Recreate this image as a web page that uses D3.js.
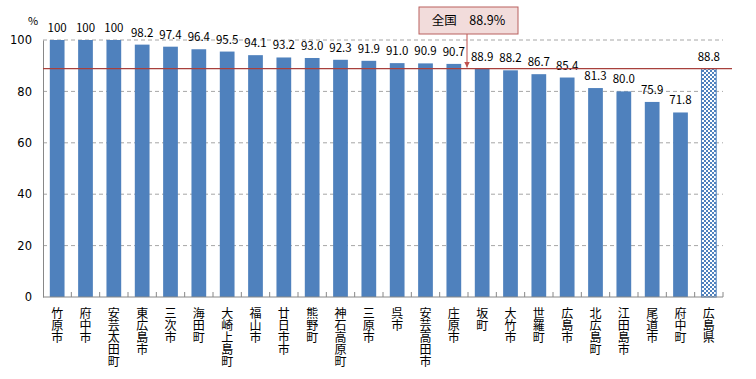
<!DOCTYPE html>
<html>
<head>
<meta charset="utf-8">
<script src="https://cdn.jsdelivr.net/npm/d3@7"></script>
<style>
  body { margin: 0; background: #fff; }
  text { font-family: "Noto Sans CJK JP", "DejaVu Sans", sans-serif; }
  text.cat { writing-mode: vertical-rl; text-orientation: upright; }
</style>
</head>
<body>
<script>
'use strict';

const categories = ['竹原市', '府中市', '安芸太田町', '東広島市', '三次市', '海田町', '大崎上島町', '福山市',
  '廿日市市', '熊野町', '神石高原町', '三原市', '呉市', '安芸高田市', '庄原市', '坂町', '大竹市', '世羅町',
  '広島市', '北広島町', '江田島市', '尾道市', '府中町', '広島県'];
const values = [100, 100, 100, 98.2, 97.4, 96.4, 95.5, 94.1, 93.2, 93.0, 92.3, 91.9, 91.0, 90.9, 90.7,
  88.9, 88.2, 86.7, 85.4, 81.3, 80.0, 75.9, 71.8, 88.8];
const yTicks = [0, 20, 40, 60, 80, 100];
const nationalValue = 88.9;
const nationalLabel = '全国　88.9%';

const width = 756, height = 379;
const margin = { left: 43, right: 33, top: 40, bottom: 82 };

const svg = d3.select('body').append('svg')
  .attr('width', width)
  .attr('height', height);

const x = d3.scaleBand()
  .domain(categories)
  .range([margin.left, width - margin.right])
  .paddingInner(0.48)
  .paddingOuter(0.24);

const y = d3.scaleLinear()
  .domain([0, 100])
  .range([height - margin.bottom, margin.top]);

// checkered pattern for prefecture bar
const defs = svg.append('defs');
const pat = defs.append('pattern')
  .attr('id', 'checker')
  .attr('width', 4).attr('height', 4)
  .attr('patternUnits', 'userSpaceOnUse');
pat.append('rect').attr('width', 4).attr('height', 4).attr('fill', '#fff');
pat.append('rect').attr('width', 2).attr('height', 2).attr('fill', '#4f81bd');
pat.append('rect').attr('x', 2).attr('y', 2).attr('width', 2).attr('height', 2).attr('fill', '#4f81bd');

// gridlines
svg.append('g')
  .selectAll('line')
  .data(yTicks.filter(d => d > 0))
  .enter()
  .append('line')
  .attr('x1', margin.left)
  .attr('x2', width - margin.right)
  .attr('y1', d => y(d))
  .attr('y2', d => y(d))
  .attr('stroke', '#a6a6a6')
  .attr('stroke-dasharray', '4,3');

// bars
const last = categories[categories.length - 1];
svg.append('g')
  .selectAll('rect')
  .data(categories)
  .enter()
  .append('rect')
  .attr('x', d => x(d))
  .attr('y', (d, i) => y(values[i]))
  .attr('width', x.bandwidth())
  .attr('height', (d, i) => y(0) - y(values[i]))
  .attr('fill', d => d === last ? 'url(#checker)' : '#4f81bd')
  .attr('stroke', d => d === last ? '#4f81bd' : 'none')
  .attr('stroke-width', 1);

// value labels
svg.append('g')
  .selectAll('text')
  .data(categories)
  .enter()
  .append('text')
  .attr('x', d => x(d) + x.bandwidth() / 2)
  .attr('y', (d, i) => y(values[i]) - 8)
  .attr('text-anchor', 'middle')
  .attr('font-size', 11.5)
  .attr('fill', '#000')
  .text((d, i) => values[i] === 100 ? '100' : values[i].toFixed(1));

// y axis
const yAxis = svg.append('g')
  .attr('transform', `translate(${margin.left},0)`)
  .call(d3.axisLeft(y).tickValues(yTicks).tickSize(0).tickPadding(11));
yAxis.select('.domain').attr('stroke', '#888');
yAxis.selectAll('text').attr('font-size', 11.5).attr('fill', '#000')
  .style('font-family', '"DejaVu Sans", sans-serif');

svg.append('text')
  .attr('x', 33).attr('y', 25)
  .attr('text-anchor', 'middle')
  .attr('font-size', 11)
  .text('%');

// x axis
const xAxis = svg.append('g')
  .attr('transform', `translate(0,${y(0)})`);
xAxis.append('line')
  .attr('x1', margin.left).attr('x2', width - margin.right)
  .attr('stroke', '#888');
const step = x.step();
xAxis.selectAll('line.tick')
  .data(categories)
  .enter()
  .append('line')
  .attr('class', 'tick')
  .attr('x1', d => x(d) + x.bandwidth() / 2 + step / 2)
  .attr('x2', d => x(d) + x.bandwidth() / 2 + step / 2)
  .attr('y1', -5).attr('y2', 0)
  .attr('stroke', '#888');

// vertical category labels
xAxis.selectAll('text.cat')
  .data(categories)
  .enter()
  .append('text')
  .attr('class', 'cat')
  .attr('x', d => x(d) + x.bandwidth() / 2)
  .attr('y', 10)
  .attr('font-size', 12)
  .attr('fill', '#000')
  .text(d => d);

// national average line
const ny = y(nationalValue);
svg.append('line')
  .attr('x1', margin.left).attr('x2', width - 24)
  .attr('y1', ny).attr('y2', ny)
  .attr('stroke', '#a8403c')
  .attr('stroke-width', 1.2);

// callout
const box = { x: 419, y: 7, w: 99, h: 27 };
const ax = 467;
defs.append('marker')
  .attr('id', 'arrow')
  .attr('viewBox', '0 0 10 10')
  .attr('refX', 10).attr('refY', 5)
  .attr('markerWidth', 6).attr('markerHeight', 6)
  .attr('orient', 'auto')
  .append('path')
  .attr('d', 'M0,0 L10,5 L0,10 z')
  .attr('fill', '#c0504d');
svg.append('line')
  .attr('x1', ax).attr('x2', ax)
  .attr('y1', box.y + box.h).attr('y2', ny - 1)
  .attr('stroke', '#c0504d')
  .attr('marker-end', 'url(#arrow)');
svg.append('rect')
  .attr('x', box.x).attr('y', box.y)
  .attr('width', box.w).attr('height', box.h)
  .attr('fill', '#f2dcdb')
  .attr('stroke', '#b9605e');
svg.append('text')
  .attr('x', box.x + box.w / 2).attr('y', box.y + 18)
  .attr('text-anchor', 'middle')
  .attr('font-size', 12.5)
  .text(nationalLabel);
</script>
</body>
</html>
